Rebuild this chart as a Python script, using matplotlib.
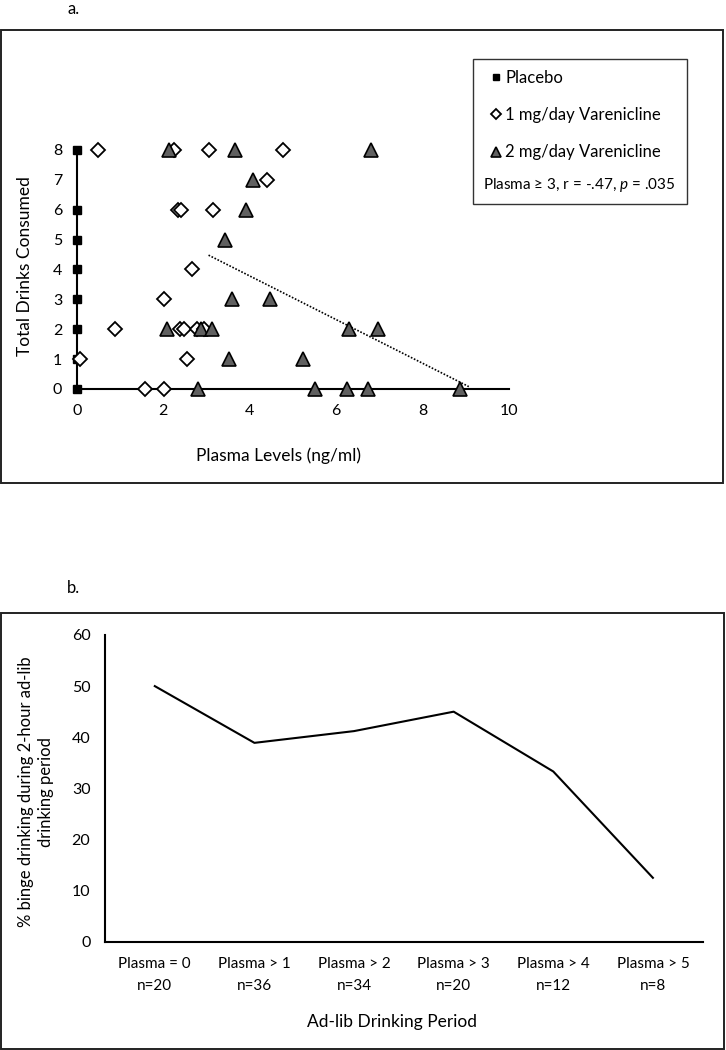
import matplotlib
matplotlib.use("Agg")
import matplotlib.pyplot as plt
from matplotlib.patches import Rectangle

plt.rcParams['font.family'] = ['Lato', 'DejaVu Sans']
plt.rcParams['mathtext.fontset'] = 'custom'
plt.rcParams['mathtext.rm'] = 'Lato'
plt.rcParams['mathtext.it'] = 'Lato:italic'

W, H = 726, 1050

# ---------------- Data: panel a ----------------
placebo_x = [0, 0, 0, 0, 0, 0, 0, 0]
placebo_y = [8, 6, 5, 4, 3, 2, 1, 0]

vare1_x = [0.50, 2.25, 3.05, 4.77, 4.40, 2.34, 2.42, 3.16, 2.66, 2.01,
           0.89, 2.40, 2.48, 2.79, 2.94, 0.08, 2.56, 1.59, 2.01]
vare1_y = [8, 8, 8, 8, 7, 6, 6, 6, 4, 3, 2, 2, 2, 2, 2, 1, 1, 0, 0]

vare2_x = [2.13, 3.66, 6.80, 4.08, 3.91, 3.43, 3.59, 4.47, 2.09, 2.88,
           3.14, 6.30, 6.98, 3.53, 5.23, 2.81, 5.52, 6.26, 6.74, 8.86]
vare2_y = [8, 8, 8, 7, 6, 5, 3, 3, 2, 2, 2, 2, 2, 1, 1, 0, 0, 0, 0, 0]

trend_x = [3.05, 9.07]
trend_y = [4.48, 0.08]

xticks_a = [0, 2, 4, 6, 8, 10]
yticks_a = [0, 1, 2, 3, 4, 5, 6, 7, 8]

# ---------------- Data: panel b ----------------
categories_b = ["Plasma = 0\nn=20", "Plasma > 1\nn=36", "Plasma > 2\nn=34",
                "Plasma > 3\nn=20", "Plasma > 4\nn=12", "Plasma > 5\nn=8"]
binge_pct = [50.0, 38.9, 41.2, 45.0, 33.3, 12.5]
yticks_b = [0, 10, 20, 30, 40, 50, 60]


def fx(px):
    return px / W


def fy(py):
    return 1 - py / H


fig = plt.figure(figsize=(W / 100, H / 100), dpi=100)

# outer frames
fig.patches.append(Rectangle((fx(1), fy(483)), fx(723) - fx(1), fy(30) - fy(483),
                             transform=fig.transFigure, fill=False,
                             edgecolor='#222222', linewidth=1.4))
fig.patches.append(Rectangle((fx(1), fy(1049)), fx(724) - fx(1), fy(613) - fy(1049),
                             transform=fig.transFigure, fill=False,
                             edgecolor='#222222', linewidth=1.4))

fig.text(fx(68), fy(9), "a.", fontsize=12, va='center', ha='left')
fig.text(fx(67), fy(588), "b.", fontsize=12, va='center', ha='left')

# ---------------- Panel a ----------------
x0, x1, y0, y1 = 76.7, 509, 150, 389
axa = fig.add_axes([fx(x0), fy(y1), fx(x1) - fx(x0), fy(y0) - fy(y1)])
axa.set_xlim(0, 10)
axa.set_ylim(0, 8)
for s in ['top', 'right']:
    axa.spines[s].set_visible(False)
for s in ['left', 'bottom']:
    axa.spines[s].set_linewidth(1.5)
    axa.spines[s].set_color('black')
axa.set_xticks(xticks_a)
axa.set_yticks(yticks_a)
axa.tick_params(axis='both', length=0, labelsize=11.5)
axa.tick_params(axis='y', pad=10.5)
axa.tick_params(axis='x', pad=11)

h1, = axa.plot(placebo_x, placebo_y, linestyle='none', marker='s', markersize=6,
               markerfacecolor='black', markeredgecolor='black', clip_on=False, zorder=3)
h2, = axa.plot(vare1_x, vare1_y, linestyle='none', marker='D', markersize=7,
               markerfacecolor='white', markeredgecolor='black', markeredgewidth=1.3,
               clip_on=False, zorder=4)
h3, = axa.plot(vare2_x, vare2_y, linestyle='none', marker='^', markersize=9.5,
               markerfacecolor='#606060', markeredgecolor='black', markeredgewidth=1.2,
               clip_on=False, zorder=5)
axa.plot(trend_x, trend_y, color='black', linewidth=1.2, linestyle=(0, (1, 1)),
         clip_on=False, zorder=2)

axa.set_xlabel("Plasma Levels (ng/ml)", fontsize=12.5)
axa.xaxis.set_label_coords((279 - x0) / (x1 - x0), -(456 - y1) / (y1 - y0))
axa.set_ylabel("Total Drinks Consumed", fontsize=12.5)
axa.yaxis.set_label_coords((25 - x0) / (x1 - x0), (y1 - 266.5) / (y1 - y0))
axa.xaxis.label.set_va('center')
axa.yaxis.label.set_va('center')

# legend box
fig.patches.append(Rectangle((fx(473), fy(204)), fx(687) - fx(473), fy(59) - fy(204),
                             transform=fig.transFigure, fill=False,
                             edgecolor='#333333', linewidth=1.0))
leg = fig.legend([h1, h2, h3],
                 ["Placebo", "1 mg/day Varenicline", "2 mg/day Varenicline"],
                 loc='upper left', bbox_to_anchor=(fx(492), fy(70)),
                 frameon=False, fontsize=12, markerscale=0.7,
                 handlelength=0.5, handletextpad=0.3, labelspacing=1.27,
                 borderpad=0, borderaxespad=0)
fig.text(fx(483), fy(185), "Plasma ≥ 3, r = -.47, $p$ = .035", fontsize=11,
         ha='left', va='center')

# ---------------- Panel b ----------------
bx0, bx1, by0, by1 = 105, 702.7, 635, 941.7
axb = fig.add_axes([fx(bx0), fy(by1), fx(bx1) - fx(bx0), fy(by0) - fy(by1)])
xpos = list(range(len(categories_b)))
axb.plot(xpos, binge_pct, color='black', linewidth=1.5)
axb.set_xlim(-0.5, len(categories_b) - 0.5)
axb.set_ylim(0, 60)
for s in ['top', 'right']:
    axb.spines[s].set_visible(False)
for s in ['left', 'bottom']:
    axb.spines[s].set_linewidth(1.5)
    axb.spines[s].set_color('black')
axb.set_xticks(xpos)
axb.set_xticklabels(categories_b, fontsize=11, linespacing=1.75)
axb.set_yticks(yticks_b)
axb.tick_params(axis='both', length=0)
axb.tick_params(axis='y', labelsize=11.5, pad=10.5)
axb.tick_params(axis='x', pad=11)
axb.set_xlabel("Ad-lib Drinking Period", fontsize=12.5)
axb.xaxis.set_label_coords((392 - bx0) / (bx1 - bx0), -(1022 - by1) / (by1 - by0))
axb.xaxis.label.set_va('center')
axb.set_ylabel("% binge drinking during 2-hour ad-lib\ndrinking period", fontsize=12,
               linespacing=1.3)
axb.yaxis.set_label_coords((36 - bx0) / (bx1 - bx0), (by1 - 792) / (by1 - by0))
axb.yaxis.label.set_va('center')

fig.savefig("out.png", dpi=100)
